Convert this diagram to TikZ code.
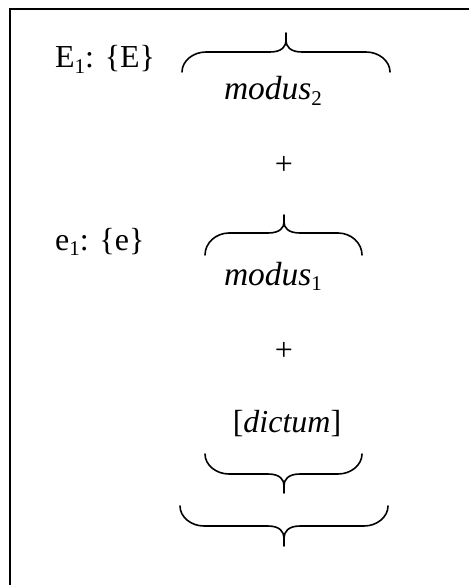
\documentclass[tikz,border=0pt]{standalone}
\usepackage{fontspec}
\setmainfont{Liberation Serif}
\newcommand{\lowsub}[1]{\raisebox{-0.16em}{\fontsize{21}{21}\selectfont #1}}
\newcommand{\drawbrace}[6]{% #1 x0, #2 x1, #3 xc, #4 y of ends, #5 y of bar, #6 y of tip
  \draw[bracestyle] (#1,#4) .. controls (#1,{#5+0.45*(#4-#5)}) and ({#1+11},#5) .. ({#1+24},#5)
    -- ({#3-16},#5) .. controls ({#3-4},#5) and (#3,{#5+0.3*(#6-#5)}) .. (#3,{#5+0.6*(#6-#5)})
    -- (#3,#6) -- (#3,{#5+0.6*(#6-#5)})
    .. controls (#3,{#5+0.3*(#6-#5)}) and ({#3+4},#5) .. ({#3+16},#5)
    -- ({#2-24},#5) .. controls ({#2-11},#5) and (#2,{#5+0.45*(#4-#5)}) .. (#2,#4);}
\begin{document}
\begin{tikzpicture}[x=1pt,y=-1pt,
  every node/.style={inner sep=0pt, font=\fontsize{32}{38}\selectfont},
  bracestyle/.style={line width=1.6pt, line cap=round, line join=round},
  framestyle/.style={line width=2pt}]
\useasboundingbox (0,0) rectangle (469,585);
\draw[framestyle] (10,585) -- (10,9) -- (469,9);
% texts
\node[anchor=base west] (E1) at (55,68) {E\lowsub{1}: \{E\}};
\node[anchor=base] (m2) at (273,100) {\fontsize{33.5}{38}\selectfont\textit{modus}\lowsub{2}};
\node (p1) at (284,165) {+};
\node[anchor=base west] (e1) at (55,250) {e\lowsub{1}: \{e\}};
\node[anchor=base] (m1) at (273,285) {\fontsize{33.5}{38}\selectfont\textit{modus}\lowsub{1}};
\node (p2) at (284,351) {+};
\node[anchor=base] (dic) at (287,432) {[\textit{dictum}]};
% braces
\drawbrace{182}{390}{286}{72}{52}{33}
\drawbrace{205}{362}{284}{255}{233}{215}
\drawbrace{205}{362}{284}{454}{474}{493}
\drawbrace{180}{388}{284}{506}{526}{546}
\end{tikzpicture}
\end{document}
